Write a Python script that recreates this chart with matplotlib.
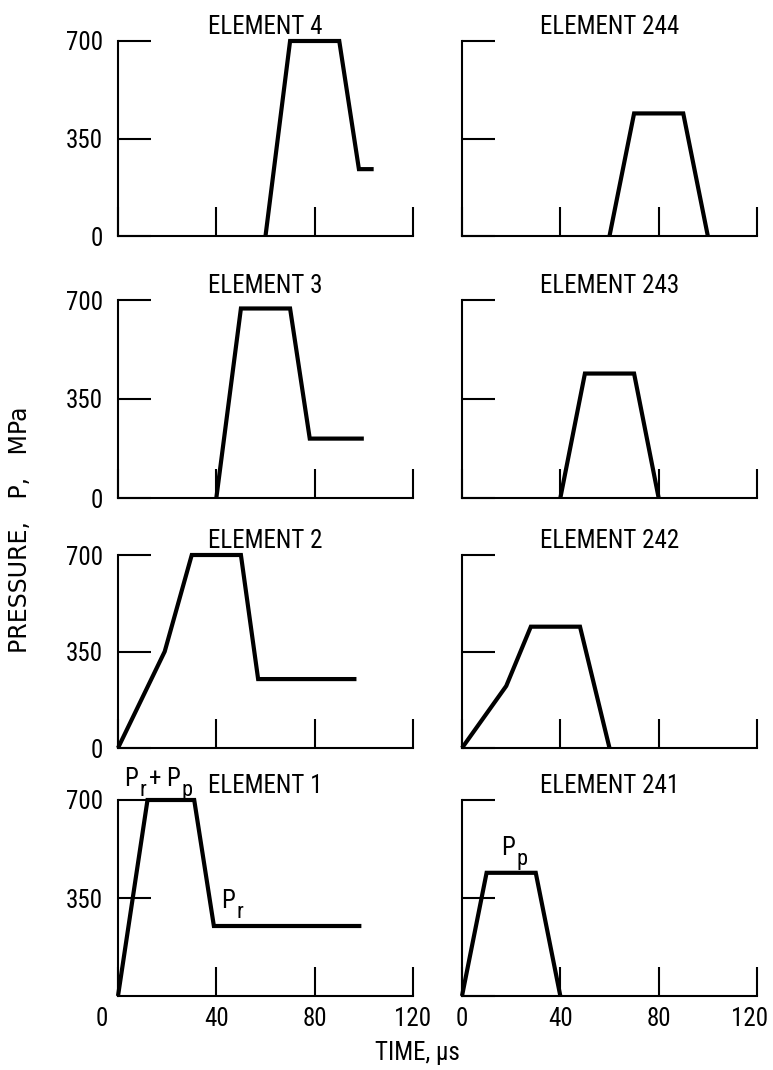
import matplotlib
matplotlib.use('Agg')
from matplotlib import pyplot as plt
from matplotlib import font_manager
from matplotlib.transforms import ScaledTranslation

# pick a narrow sans if one is around, the original lettering is condensed
FONT, STRETCH = ['DejaVu Sans'], 'condensed'
for f in font_manager.fontManager.ttflist:
    if f.name in ('Liberation Sans Narrow', 'Roboto Condensed'):
        FONT, STRETCH = [f.name, 'DejaVu Sans'], 'normal'
        break
    if f.name == 'Roboto' and f.stretch == 'condensed':
        FONT, STRETCH = ['Roboto', 'DejaVu Sans'], 'condensed'
plt.rcParams['font.family'] = FONT
plt.rcParams['font.stretch'] = STRETCH

# time (us) / pressure (MPa) breakpoints for each element
e4_t = [60, 70, 90, 98, 104]
e4_p = [0, 700, 700, 240, 240]
e3_t = [40, 50, 70, 78, 100]
e3_p = [0, 670, 670, 210, 210]
e2_t = [0, 19, 30, 50, 57, 97]
e2_p = [0, 350, 700, 700, 250, 250]
e1_t = [0, 12, 31, 39, 99]
e1_p = [0, 700, 700, 250, 250]

e244_t = [60, 70, 90, 100]
e244_p = [0, 440, 440, 0]
e243_t = [40, 50, 70, 80]
e243_p = [0, 440, 440, 0]
e242_t = [0, 18, 28, 48, 60]
e242_p = [0, 225, 440, 440, 0]
e241_t = [0, 10, 30, 40]
e241_p = [0, 440, 440, 0]

titles_left = ['ELEMENT 4', 'ELEMENT 3', 'ELEMENT 2', 'ELEMENT 1']
titles_right = ['ELEMENT 244', 'ELEMENT 243', 'ELEMENT 242', 'ELEMENT 241']
left_data = [(e4_t, e4_p), (e3_t, e3_p), (e2_t, e2_p), (e1_t, e1_p)]
right_data = [(e244_t, e244_p), (e243_t, e243_p), (e242_t, e242_p), (e241_t, e241_p)]

x_ticks = [0, 40, 80, 120]
y_ticks = [0, 350, 700]

W, H = 773, 1070
fig = plt.figure(figsize=(W / 100, H / 100), dpi=100)

# pixel boxes of the panels (top of axis at 700, bottom at 0)
rows = [(41, 236), (300, 498), (555, 748), (800, 996)]
cols = [118, 462]
col_w = 295

FS = 18


def shift(label, dx_pt, dy_pt=0):
    label.set_transform(label.get_transform() +
                        ScaledTranslation(dx_pt / 72, dy_pt / 72, fig.dpi_scale_trans))


def sub_label(ax, t, p, main, sub):
    # letter with a lowered, nearly full size subscript like the original lettering
    ax.annotate(main, (t, p), fontsize=FS, va='baseline', annotation_clip=False)
    ax.annotate(sub, (t, p), xytext=(11, -7), textcoords='offset points',
                fontsize=FS - 2, va='baseline', annotation_clip=False)


def setup(ax, title, t, p, left, bottom):
    ax.plot(t, p, color='black', lw=3.0, clip_on=False, solid_joinstyle='miter',
            solid_capstyle='butt')
    ax.set_xlim(0, 120)
    ax.set_ylim(0, 700)
    for s in ('top', 'right'):
        ax.spines[s].set_visible(False)
    for s in ('left', 'bottom'):
        ax.spines[s].set_linewidth(1.5)
    ax.set_xticks(x_ticks)
    ax.set_yticks(y_ticks)
    ax.tick_params(axis='y', direction='in', length=24, width=1.5, pad=11,
                   labelsize=FS, labelleft=left)
    ax.tick_params(axis='x', direction='in', length=21, width=1.5, pad=8,
                   labelsize=FS, labelbottom=bottom)
    ax.set_title(title, fontsize=FS, pad=5)
    ax.patch.set_alpha(0)


axes = {}
for r, (top, bot) in enumerate(rows):
    for c, x0 in enumerate(cols):
        rect = [x0 / W, 1 - bot / H, col_w / W, (bot - top) / H]
        ax = fig.add_axes(rect)
        t, p = (left_data if c == 0 else right_data)[r]
        title = (titles_left if c == 0 else titles_right)[r]
        setup(ax, title, t, p, left=(c == 0), bottom=(r == 3))
        axes[(r, c)] = ax

# bottom-left: origin drawn once, under the axis and a bit to the left
ax = axes[(3, 0)]
ax.set_yticks([350, 700])
shift(ax.get_xticklabels()[0], -12)
shift(axes[(3, 1)].get_xticklabels()[-1], -5)

sub_label(ax, 2.5, 750, 'P', 'r')
ax.annotate('+', (2.5, 750), xytext=(18, 0), textcoords='offset points',
            fontsize=FS, va='baseline', annotation_clip=False)
sub_label(ax, 19.5, 750, 'P', 'p')
sub_label(ax, 42, 314, 'P', 'r')
sub_label(axes[(3, 1)], 16, 503, 'P', 'p')

fig.text(417 / W, 1 - 1053 / H, 'TIME, µs', fontsize=FS, ha='center', va='center')
fig.text(20 / W, 1 - 530 / H, 'PRESSURE,   P,   MPa', fontsize=17, ha='center',
         va='center', rotation=90, family=['DejaVu Sans'], stretch='normal')

fig.savefig('out.png', dpi=100)
